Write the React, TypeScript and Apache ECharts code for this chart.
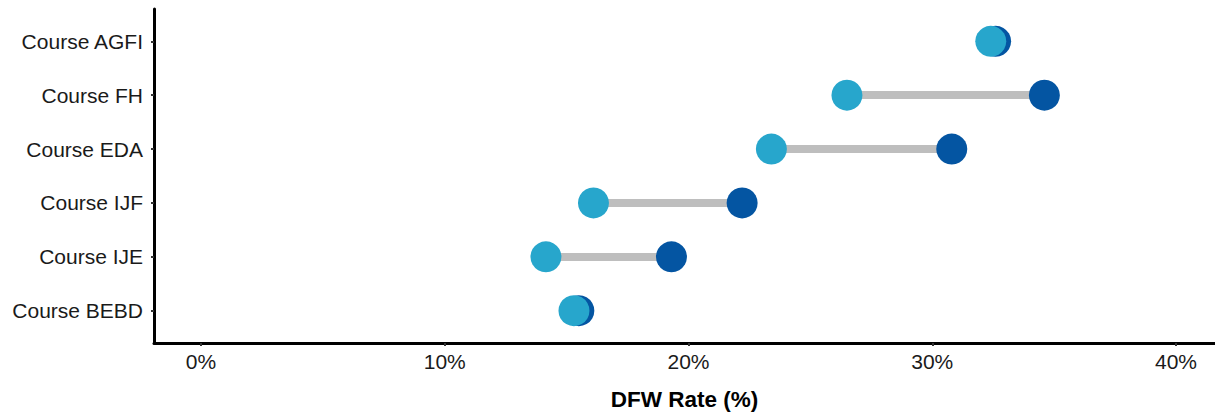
import React, { useEffect, useRef } from "react";
import * as echarts from "echarts";

// bottom to top
const categories = ["Course BEBD", "Course IJE", "Course IJF", "Course EDA", "Course FH", "Course AGFI"];
const lightValues = [15.3, 14.15, 16.1, 23.4, 26.5, 32.4];
const darkValues = [15.5, 19.3, 22.2, 30.8, 34.6, 32.6];
const xTicks = [0, 10, 20, 30, 40];

export default function App() {
  const ref = useRef<HTMLDivElement>(null);
  useEffect(() => {
    document.body.style.margin = "0";
    const chart = echarts.init(ref.current!, null, { renderer: "svg" });
    const yIdx = categories.map((_, i) => i + 1);
    const font = "'Liberation Sans', Arial, sans-serif";
    chart.setOption({
      animation: false,
      grid: { left: 154, right: 0, top: 9, bottom: 71, containLabel: false },
      xAxis: {
        type: "value",
        min: -1.93,
        max: 41.6,
        name: "DFW Rate (%)",
        nameLocation: "middle",
        nameGap: 45,
        nameTextStyle: { fontFamily: font, fontSize: 22.5, fontWeight: "bold", color: "#000" },
        axisLine: { show: true, onZero: false, lineStyle: { color: "#000", width: 3 } },
        axisTick: { show: true, length: 3, lineStyle: { color: "#333", width: 2 }, customValues: xTicks },
        axisLabel: {
          customValues: xTicks,
          formatter: (v: number) => `${v}%`,
          fontFamily: font,
          fontSize: 21,
          color: "#1a1a1a",
          margin: 8,
        },
        splitLine: { show: false },
      },
      yAxis: {
        type: "value",
        min: 0.4,
        max: 6.6,
        axisLine: { show: true, onZero: false, lineStyle: { color: "#000", width: 3 } },
        axisTick: { show: true, length: 3, lineStyle: { color: "#333", width: 2 }, customValues: yIdx },
        axisLabel: {
          customValues: yIdx,
          formatter: (v: number) => categories[Math.round(v) - 1] ?? "",
          fontFamily: font,
          fontSize: 21,
          color: "#1a1a1a",
          margin: 11,
        },
        splitLine: { show: false },
      },
      series: [
        {
          type: "lines",
          coordinateSystem: "cartesian2d",
          z: 1,
          lineStyle: { color: "#BEBEBE", width: 8, opacity: 1 },
          data: categories.map((_, i) => ({
            coords: [
              [lightValues[i], i + 1],
              [darkValues[i], i + 1],
            ],
          })),
        },
        {
          type: "scatter",
          z: 2,
          symbolSize: 31,
          itemStyle: { color: "#0455A2", opacity: 1 },
          data: darkValues.map((v, i) => [v, i + 1]),
        },
        {
          type: "scatter",
          z: 3,
          symbolSize: 31,
          itemStyle: { color: "#27A6CC", opacity: 1 },
          data: lightValues.map((v, i) => [v, i + 1]),
        },
      ],
    });
    return () => chart.dispose();
  }, []);
  return <div ref={ref} style={{ width: 1215, height: 416 }} />;
}
